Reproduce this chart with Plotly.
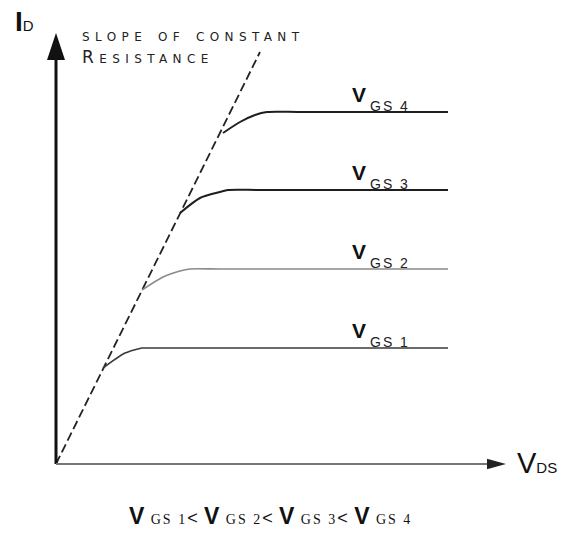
import plotly.graph_objects as go

# ---- data (VDS along x, ID along y, arbitrary units) ----
vgs_names = ["GS 1", "GS 2", "GS 3", "GS 4"]
saturation_id = [2.9, 4.875, 6.85, 8.8]
knee_vds = [
    [1.175, 1.725, 2.15, 2.225, 3.0],
    [2.15, 2.675, 3.1, 3.35, 4.1],
    [3.1, 3.6, 4.1, 4.3, 5.1],
    [4.175, 4.6, 4.975, 5.275, 6.1],
]
knee_id = [
    [2.4, 2.775, 2.9, 2.9, 2.9],
    [4.35, 4.675, 4.825, 4.875, 4.875],
    [6.275, 6.65, 6.8, 6.85, 6.85],
    [8.275, 8.55, 8.725, 8.8, 8.8],
]
vds_end = 9.8
slope_vds = [0.0, 5.1]
slope_id = [0.0, 10.3]

# axis extents
x_tip = 11.25
y_tip = 10.775

curve_colors = ["#3a3a3a", "#8a8a8a", "#1e1e1e", "#1e1e1e"]
curve_widths = [1.6, 1.6, 2.0, 2.0]

fig = go.Figure()

# constant-resistance slope (dashed)
fig.add_trace(go.Scatter(
    x=slope_vds, y=slope_id, mode="lines",
    line=dict(color="#222222", width=1.8, dash="9px,4px"),
    hoverinfo="skip", showlegend=False))

# output characteristic knees and saturation plateaus
for i in range(4):
    fig.add_trace(go.Scatter(
        x=knee_vds[i] + [vds_end],
        y=knee_id[i] + [saturation_id[i]],
        mode="lines",
        line=dict(color=curve_colors[i], width=curve_widths[i], shape="spline", smoothing=0.7),
        hoverinfo="skip", showlegend=False))

shapes = [
    # ID axis
    dict(type="line", x0=0, y0=0, x1=0, y1=y_tip - 0.5, line=dict(color="#111111", width=3)),
    dict(type="path", path=f"M 0 {y_tip} L -0.225 {y_tip-0.675} L 0.225 {y_tip-0.675} Z",
         fillcolor="#111111", line=dict(width=0)),
    # VDS axis
    dict(type="line", x0=0, y0=0, x1=x_tip - 0.4, y1=0, line=dict(color="#777777", width=2)),
    dict(type="path", path=f"M {x_tip} 0 L {x_tip-0.475} 0.13 L {x_tip-0.475} -0.13 Z",
         fillcolor="#222222", line=dict(width=0)),
]

annotations = []
for i in range(4):
    # curve label: V with its subscript set below the baseline
    annotations.append(dict(
        x=7.35, y=saturation_id[i], xanchor="left", yanchor="bottom", yshift=4,
        text="<b>V</b>", showarrow=False,
        font=dict(family="Liberation Sans", size=21, color="#111111")))
    annotations.append(dict(
        x=7.9, y=saturation_id[i], xanchor="left", yanchor="bottom", yshift=-4,
        text=vgs_names[i], showarrow=False,
        font=dict(family="Liberation Sans", size=14, color="#222222")))

sub = "<span style='font-family:Liberation Serif;font-size:14px'>{}</span>"
lt = "<span style='font-size:18px'>&lt;</span>"
inequality = (f"<b>V</b> {sub.format(vgs_names[0])}{lt} "
              f"<b>V</b> {sub.format(vgs_names[1])}{lt} "
              f"<b>V</b> {sub.format(vgs_names[2])}{lt} "
              f"<b>V</b> {sub.format(vgs_names[3])}")

annotations += [
    dict(x=-1.075, y=y_tip, xanchor="left", yanchor="bottom", yshift=-6,
         text="<b>I</b><span style='font-size:15px'>D</span>", showarrow=False,
         font=dict(family="Liberation Sans", size=28, color="#111111")),
    dict(x=11.475, y=0, xanchor="left", yanchor="middle", yshift=1,
         text="V<span style='font-size:15px'>DS</span>", showarrow=False,
         font=dict(family="Liberation Sans", size=29, color="#111111")),
    dict(x=0.6, y=10.44, xanchor="left", yanchor="middle",
         text="slope of constant<br>Resistance", showarrow=False, align="left",
         font=dict(family="DejaVu Sans", size=17, color="#222222", variant="small-caps")),
    dict(x=5.35, y=-1.3, xanchor="center", yanchor="middle",
         text=inequality, showarrow=False,
         font=dict(family="Liberation Sans", size=23, color="#111111")),
]

fig.update_layout(
    width=561, height=542, autosize=False,
    margin=dict(l=0, r=0, t=0, b=0),
    paper_bgcolor="white", plot_bgcolor="white",
    xaxis=dict(range=[-1.4, 12.625], visible=False, fixedrange=True),
    yaxis=dict(range=[-1.95, 11.6], visible=False, fixedrange=True),
    shapes=shapes, annotations=annotations,
)

# widen the tracking of the caption and the subscripts
letter_spacing = """
document.querySelectorAll('text.annotation-text').forEach(function(t){
  var s = t.textContent;
  if (s.indexOf('onstant') >= 0) { t.style.letterSpacing = '5.4px'; }
  else if (/^GS \\d$/.test(s)) { t.style.letterSpacing = '2px'; }
});
document.querySelectorAll('text.annotation-text tspan').forEach(function(t){
  if (t.style.fontFamily && t.style.fontFamily.indexOf('Serif') >= 0) { t.style.letterSpacing = '2px'; }
});
"""

fig.write_html("out.html", config={"displayModeBar": False}, post_script=letter_spacing)
